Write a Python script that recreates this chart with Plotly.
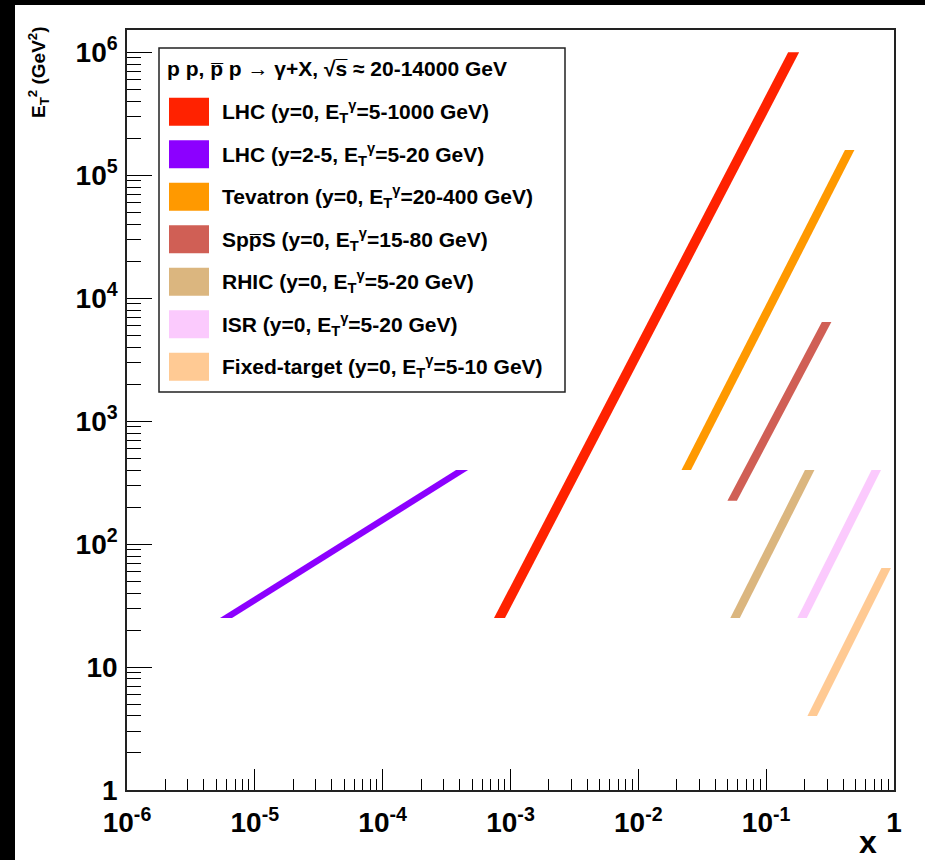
import plotly.graph_objects as go

# ---------------- data ----------------
series_labels = [
    "LHC (y=0, E<sub>T</sub><sup>γ</sup>=5-1000 GeV)",
    "LHC (y=2-5, E<sub>T</sub><sup>γ</sup>=5-20 GeV)",
    "Tevatron (y=0, E<sub>T</sub><sup>γ</sup>=20-400 GeV)",
    "Spp\u0305S (y=0, E<sub>T</sub><sup>γ</sup>=15-80 GeV)",
    "RHIC (y=0, E<sub>T</sub><sup>γ</sup>=5-20 GeV)",
    "ISR (y=0, E<sub>T</sub><sup>γ</sup>=5-20 GeV)",
    "Fixed-target (y=0, E<sub>T</sub><sup>γ</sup>=5-10 GeV)",
]
series_colors = ["#ff2200", "#8c00ff", "#ff9900", "#d05f55", "#dbb67f", "#fbcafd", "#ffca94"]

et2_low  = [25,      25,      400,    225,    25,     25,    4]
et2_high = [1.0e6,   400,     1.6e5,  6400,   400,    400,   64]
x_at_low  = [8.2e-4, 5.95e-6, 0.0237, 0.0542, 0.0571, 0.191, 0.229]
x_at_high = [0.164,  4.18e-4, 0.45,   0.297,  0.219,  0.726, 0.869]

header_text = "p p, p\u0305 p \u2192 γ+X, \u221as\u0305 \u2248 20-14000 GeV"

x_tick_vals = [1e-6, 1e-5, 1e-4, 1e-3, 1e-2, 1e-1, 1]
x_tick_text = ["10<sup>-6</sup>", "10<sup>-5</sup>", "10<sup>-4</sup>", "10<sup>-3</sup>",
               "10<sup>-2</sup>", "10<sup>-1</sup>", "1"]
y_tick_vals = [1, 10, 1e2, 1e3, 1e4, 1e5, 1e6]
y_tick_text = ["1", "10", "10<sup>2</sup>", "10<sup>3</sup>", "10<sup>4</sup>",
               "10<sup>5</sup>", "10<sup>6</sup>"]

# ---------------- layout geometry (pixels) ----------------
FIG_W, FIG_H = 925, 860
L, R, T, B = 127, 894, 30, 790
PW, PH = R - L, B - T
X_DEC_PX = PW / 6.0
band_px = [11, 12, 9.5, 9.5, 9.5, 9.5, 9.5]   # horizontal band thickness in px

def px(xp):
    return (xp - L) / PW

def py(yp):
    return (B - yp) / PH

fig = go.Figure()

for i in range(len(series_labels)):
    h = band_px[i] / 2.0 / X_DEC_PX
    f = 10 ** h
    xs = [x_at_low[i] / f, x_at_low[i] * f, x_at_high[i] * f, x_at_high[i] / f, x_at_low[i] / f]
    ys = [et2_low[i], et2_low[i], et2_high[i], et2_high[i], et2_low[i]]
    fig.add_trace(go.Scatter(
        x=xs, y=ys, mode="lines", fill="toself",
        fillcolor=series_colors[i], line=dict(width=0, color=series_colors[i]),
        hoverinfo="skip", showlegend=False))

FONT = "Liberation Sans, Arial, Helvetica, sans-serif"
minor_x = [k * 10.0 ** e for e in range(-6, 0) for k in range(2, 10)]
minor_y = [k * 10.0 ** e for e in range(0, 6) for k in range(2, 10)]

fig.update_xaxes(
    type="log", range=[-6, 0], showgrid=False, zeroline=False,
    showline=True, mirror=True, linecolor="#222222", linewidth=1.5,
    ticks="inside", ticklen=21, tickwidth=1.3, tickcolor="black",
    tickmode="array", tickvals=x_tick_vals, ticktext=x_tick_text,
    ticklabelstandoff=7,
    tickfont=dict(family=FONT, size=28, color="black", weight="bold"),
    minor=dict(ticks="inside", ticklen=11, tickwidth=1.3, tickcolor="black",
               tickmode="array", tickvals=minor_x, showgrid=False),
)
fig.update_yaxes(
    type="log", range=[0, 6.181], showgrid=False, zeroline=False,
    showline=True, mirror=True, linecolor="#222222", linewidth=1.5,
    ticks="inside", ticklen=25, tickwidth=1.3, tickcolor="black",
    tickmode="array", tickvals=y_tick_vals, ticktext=y_tick_text,
    ticklabelstandoff=2,
    tickfont=dict(family=FONT, size=28, color="black", weight="bold"),
    minor=dict(ticks="inside", ticklen=14, tickwidth=1.3, tickcolor="black",
               tickmode="array", tickvals=minor_y, showgrid=False),
)

shapes = [
    # white page over the black background (black strip at top and left)
    dict(type="rect", xref="paper", yref="paper", x0=px(15), x1=px(FIG_W + 5),
         y0=py(FIG_H + 5), y1=py(5), fillcolor="white", line=dict(width=0), layer="below"),
    # legend box
    dict(type="rect", xref="paper", yref="paper", x0=px(159), x1=px(565),
         y0=py(392), y1=py(48), fillcolor="white", line=dict(color="#222222", width=1.5),
         layer="above"),
]
annotations = [
    dict(xref="paper", yref="paper", x=px(165), y=py(68), xanchor="left", yanchor="middle",
         text=header_text, showarrow=False,
         font=dict(family=FONT, size=21, color="black", weight="bold")),
    dict(xref="paper", yref="paper", x=px(39), y=py(72), xanchor="center", yanchor="middle",
         text="E<sub>T</sub><sup>2</sup> (GeV<sup>2</sup>)", textangle=-90, showarrow=False,
         font=dict(family=FONT, size=19, color="black", weight="bold")),
    dict(xref="paper", yref="paper", x=px(868), y=py(842), xanchor="center", yanchor="middle",
         text="x", showarrow=False,
         font=dict(family=FONT, size=32, color="black", weight="bold")),
]
for i, lab in enumerate(series_labels):
    yc = 111.8 + i * 42.5
    shapes.append(dict(type="rect", xref="paper", yref="paper", x0=px(169), x1=px(209),
                       y0=py(yc + 14), y1=py(yc - 14), fillcolor=series_colors[i],
                       line=dict(width=0), layer="above"))
    annotations.append(dict(xref="paper", yref="paper", x=px(220), y=py(yc),
                            xanchor="left", yanchor="middle", text=lab, showarrow=False,
                            font=dict(family=FONT, size=21, color="black", weight="bold")))

fig.update_layout(
    width=FIG_W, height=FIG_H,
    margin=dict(l=L, r=FIG_W - R, t=T, b=FIG_H - B, pad=0),
    paper_bgcolor="black", plot_bgcolor="white",
    showlegend=False, shapes=shapes, annotations=annotations,
    font=dict(family=FONT, color="black"),
)

fig.write_html("out.html")
